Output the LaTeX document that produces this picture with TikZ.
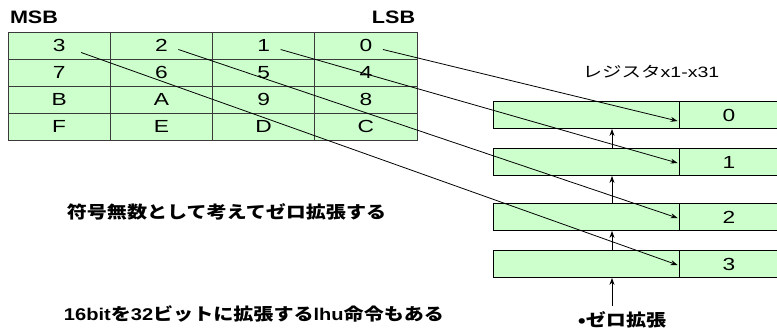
\documentclass[tikz,border=0pt]{standalone}
\usepackage{graphicx}
\usepackage{fontspec}
\setmainfont{Liberation Sans}
\newfontfamily\jp{Noto Sans CJK JP}
\usetikzlibrary{arrows.meta,calc}
\definecolor{cellgreen}{HTML}{CCFFCC}
\definecolor{edgegray}{HTML}{3A3A3A}
\newcommand{\widelat}[1]{\scalebox{1.3}[1]{#1}}
\newcommand{\widejp}[1]{\scalebox{1.18}[1]{#1}}
\begin{document}
\begin{tikzpicture}[x=1pt,y=-1pt,
  cell/.style={draw=edgegray, fill=cellgreen, line width=0.8pt, minimum width=102.25pt, minimum height=27pt, inner sep=0pt, font=\fontsize{17.5}{17.5}\selectfont},
  regl/.style={draw=black, fill=cellgreen, line width=0.8pt, minimum width=186pt, minimum height=27pt, inner sep=0pt},
  regr/.style={draw=black, fill=cellgreen, line width=0.8pt, minimum width=100pt, minimum height=27pt, inner sep=0pt, font=\fontsize{17.5}{17.5}\selectfont},
  conn/.style={line width=0.8pt, -{Stealth[length=7pt,width=5pt]}},
  hdr/.style={font=\bfseries\fontsize{18}{18}\selectfont, inner sep=0pt},
  jpbold/.style={font=\jp\bfseries\fontsize{17}{17}\selectfont, inner sep=0pt}
]
\useasboundingbox (0,0) rectangle (777,335);

% headers
\node[hdr] (msb) at (34,17) {\scalebox{1.2}[1]{MSB}};
\node[hdr] (lsb) at (393.5,17) {\scalebox{1.2}[1]{LSB}};

% table
\foreach \r/\a/\b/\c/\d in {0/3/2/1/0,1/7/6/5/4,2/B/A/9/8,3/F/E/D/C}{
  \node[cell] (t\r c0) at ({8+102.25*0.5},{45.5+27*\r}) {\widelat{\a}};
  \node[cell] (t\r c1) at ({8+102.25*1.5},{45.5+27*\r}) {\widelat{\b}};
  \node[cell] (t\r c2) at ({8+102.25*2.5},{45.5+27*\r}) {\widelat{\c}};
  \node[cell] (t\r c3) at ({8+102.25*3.5},{45.5+27*\r}) {\widelat{\d}};
}

% register label
\node[font=\fontsize{15}{15}\selectfont, inner sep=0pt] (reglabel) at (651,72) {\widelat{\jp レジスタ\rmfamily x1-x31}};

% registers
\foreach \k/\y in {0/115,1/162,2/217,3/264}{
  \node[regl] (rl\k) at (586,\y) {};
  \node[regr] (rr\k) at (729,\y) {\widelat{\k}};
}

% start points of diagonal arrows (right of the digits in the top row)
\coordinate (s0) at ($(t0c3.center)+(17,4)$);
\coordinate (s1) at ($(t0c2.center)+(17,4)$);
\coordinate (s2) at ($(t0c1.center)+(17,4)$);
\coordinate (s3) at ($(t0c0.center)+(22,7)$);

\draw[conn] (s0) -- ($(rr0.west)+(-1,6)$);
\draw[conn] (s1) -- ($(rr1.west)+(-1,1)$);
\draw[conn] (s2) -- ($(rr2.west)+(-1,1)$);
\draw[conn] (s3) -- ($(rr3.west)+(-1,1)$);

% vertical zero-extension arrows
\draw[conn] ($(rl1.north)+(26,0)$) -- ($(rl0.south)+(26,0)$);
\draw[conn] ($(rl2.north)+(26,0)$) -- ($(rl1.south)+(26,0)$);
\draw[conn] ($(rl3.north)+(26,0)$) -- ($(rl2.south)+(26,0)$);
\coordinate (zbot) at ($(rl3.south)+(26,28)$);
\draw[conn] (zbot) -- ($(rl3.south)+(26,0)$);

% texts
\node[jpbold] (t1) at (226.5,212) {\widejp{符号無数として考えてゼロ拡張する}};
\node[jpbold] (t2) at (254,314) {\widejp{{\rmfamily\bfseries 16bit}を{\rmfamily\bfseries 32}ビットに拡張する{\rmfamily\bfseries lhu}命令もある}};
\node[jpbold] (t3) at (622,320) {\widejp{•ゼロ拡張}};
\end{tikzpicture}
\end{document}
